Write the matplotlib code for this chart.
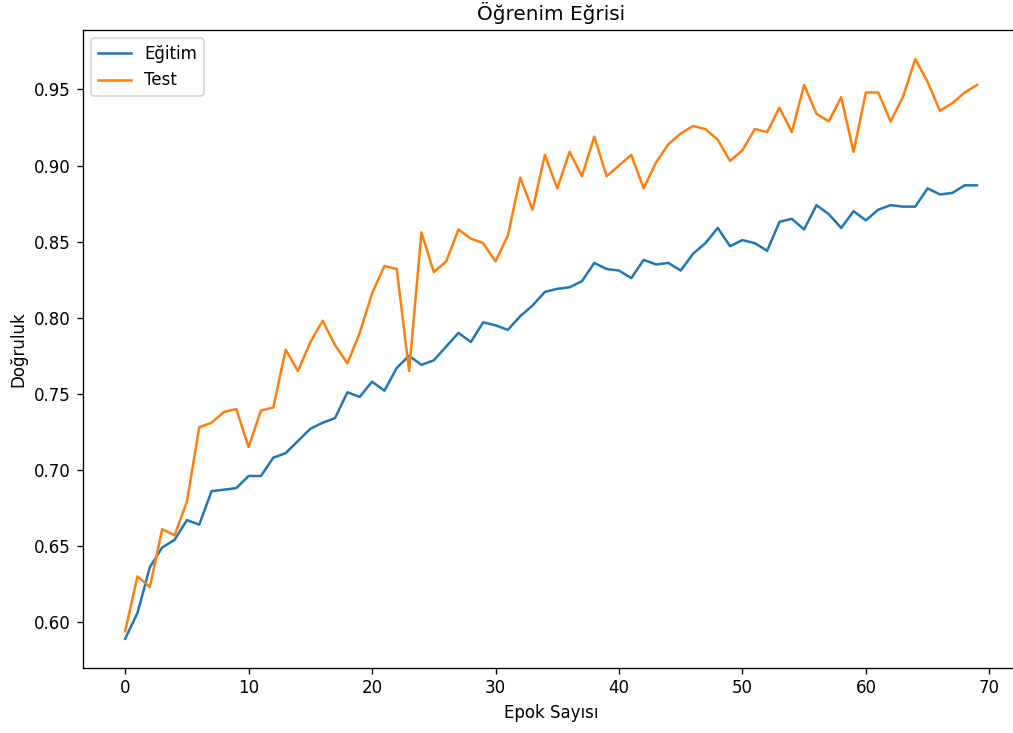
import numpy as np
import matplotlib
matplotlib.use('Agg')
import matplotlib.pyplot as plt

# doğruluk değerleri, her epok için
egitim = [0.589, 0.606, 0.636, 0.649, 0.654, 0.667, 0.664, 0.686, 0.687, 0.688,
          0.696, 0.696, 0.708, 0.711, 0.719, 0.727, 0.731, 0.734, 0.751, 0.748,
          0.758, 0.752, 0.767, 0.775, 0.769, 0.772, 0.781, 0.790, 0.784, 0.797,
          0.795, 0.792, 0.801, 0.808, 0.817, 0.819, 0.820, 0.824, 0.836, 0.832,
          0.831, 0.826, 0.838, 0.835, 0.836, 0.831, 0.842, 0.849, 0.859, 0.847,
          0.851, 0.849, 0.844, 0.863, 0.865, 0.858, 0.874, 0.868, 0.859, 0.870,
          0.864, 0.871, 0.874, 0.873, 0.873, 0.885, 0.881, 0.882, 0.887, 0.887]
test = [0.594, 0.630, 0.623, 0.661, 0.657, 0.679, 0.728, 0.731, 0.738, 0.740,
        0.715, 0.739, 0.741, 0.779, 0.765, 0.784, 0.798, 0.782, 0.770, 0.790,
        0.816, 0.834, 0.832, 0.765, 0.856, 0.830, 0.837, 0.858, 0.852, 0.849,
        0.837, 0.854, 0.892, 0.871, 0.907, 0.885, 0.909, 0.893, 0.919, 0.893,
        0.900, 0.907, 0.885, 0.902, 0.914, 0.921, 0.926, 0.924, 0.917, 0.903,
        0.910, 0.924, 0.922, 0.938, 0.922, 0.953, 0.934, 0.929, 0.945, 0.909,
        0.948, 0.948, 0.929, 0.945, 0.970, 0.955, 0.936, 0.941, 0.948, 0.953]
epok = np.arange(len(egitim))

fig = plt.figure(figsize=(1013/120, 733/120), dpi=120)
# sağ kenar resmin biraz dışına taşıyor
ax = fig.add_axes([0.0815, 0.089, 0.925, 0.870])
ax.plot(epok, egitim, label='Eğitim')
ax.plot(epok, test, label='Test')
ax.set_title('Öğrenim Eğrisi')
ax.set_xlabel('Epok Sayısı')
ax.set_ylabel('Doğruluk')
ax.legend(loc='upper left')
fig.savefig('out.png', dpi=120)
